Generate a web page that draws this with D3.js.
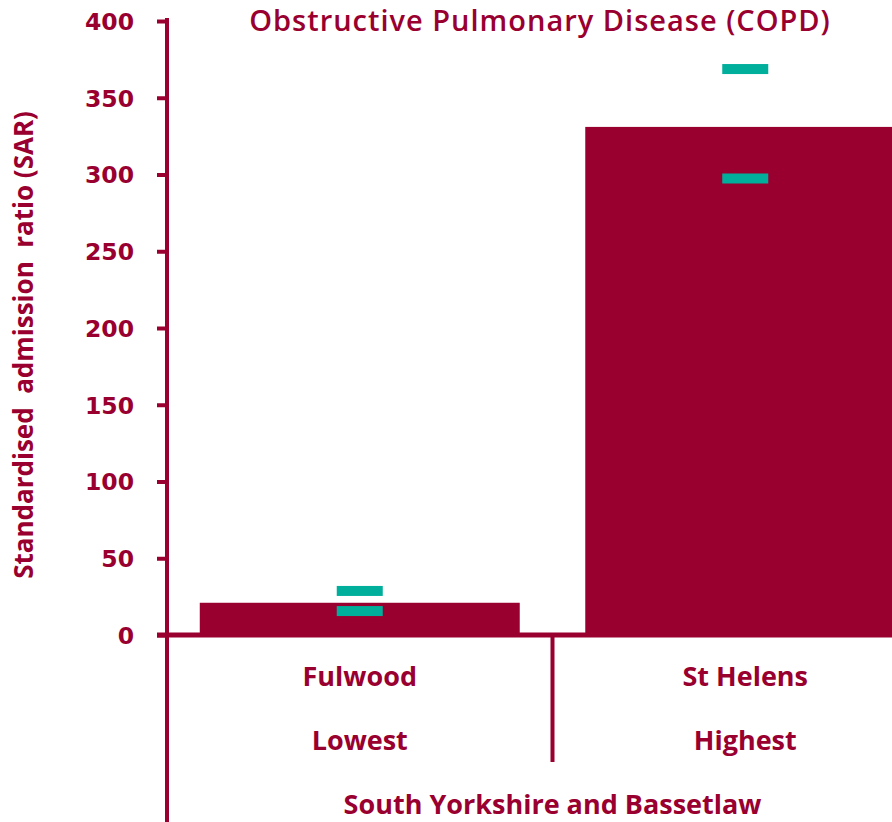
<!DOCTYPE html>
<html><head><meta charset="utf-8">
<script src="https://cdn.jsdelivr.net/npm/d3@7"></script>
<style>body{margin:0;background:#fff;overflow:hidden}</style>
</head><body>
<svg id="c" width="892" height="822"></svg>
<script>
const categories = ["Fulwood", "St Helens"];
const subLabels = ["Lowest", "Highest"];
const groupLabel = "South Yorkshire and Bassetlaw";
const values = [21, 331];
const lowerCI = [15.6, 297.4];
const upperCI = [28.7, 368.7];
const yTicks = [0, 50, 100, 150, 200, 250, 300, 350, 400];
const title = "Obstructive Pulmonary Disease (COPD)";
const yTitle = "Standardised  admission  ratio (SAR)";

const red = "#990030", teal = "#00ae9c";
const svg = d3.select("#c");
const x0 = 167, x1 = 938, yBase = 635, yTop = 21;
const y = d3.scaleLinear().domain([0, 400]).range([yBase, yTop]);
const xb = d3.scaleBand().domain(categories).range([x0, x1]).paddingInner(0.17).paddingOuter(0.085);
const xg = d3.scaleBand().domain(categories).range([x0, x1]);

// bars
svg.selectAll("rect.bar").data(categories).join("rect")
  .attr("x", d => xb(d)).attr("width", xb.bandwidth())
  .attr("y", (d,i) => y(values[i])).attr("height", (d,i) => y(0) - y(values[i]))
  .attr("fill", red);

// CI markers
const mw = 46, mh = 10;
categories.forEach((c,i) => {
  [lowerCI[i], upperCI[i]].forEach(v => {
    svg.append("rect").attr("x", xg(c) + xg.bandwidth()/2 - mw/2).attr("width", mw)
      .attr("y", y(v) - mh/2).attr("height", mh).attr("fill", teal);
  });
});

// y axis
const yAxis = d3.axisLeft(y).tickValues(yTicks).tickSize(10).tickPadding(23);
const gy = svg.append("g").attr("transform", `translate(${x0},0)`).call(yAxis);
gy.select(".domain").remove();
gy.selectAll(".tick line").attr("stroke", red).attr("stroke-width", 4);
gy.selectAll(".tick text").attr("fill", red)
  .style("font-family", "'DejaVu Sans'").style("font-weight", "bold").style("font-size", "23.5px")
  .attr("dy", "0.36em");
svg.append("line").attr("x1", x0).attr("x2", x0).attr("y1", yTop - 3).attr("y2", 822)
  .attr("stroke", red).attr("stroke-width", 4);
// x axis baseline
svg.append("line").attr("x1", x0 - 10).attr("x2", 892).attr("y1", yBase).attr("y2", yBase)
  .attr("stroke", red).attr("stroke-width", 5);
// divider
svg.append("line").attr("x1", xg(categories[1])).attr("x2", xg(categories[1]))
  .attr("y1", yBase).attr("y2", 762).attr("stroke", red).attr("stroke-width", 4);

const lblFont = "'Open Sans'";
function lbl(xp, yp, t) {
  svg.append("text").attr("x", xp).attr("y", yp).attr("text-anchor", "middle")
    .attr("fill", red).style("font-family", lblFont).style("font-weight", "bold").style("font-size", "27px")
    .text(t);
}
categories.forEach((c,i) => {
  const cx = xg(c) + xg.bandwidth()/2;
  lbl(cx, 686, c);
  lbl(cx, 750, subLabels[i]);
});
lbl((x0 + x1)/2, 814, groupLabel);

svg.append("text").attr("x", 540).attr("y", 31).attr("text-anchor", "middle")
  .attr("fill", red).style("font-family", lblFont).style("font-weight", "600").style("font-size", "29px")
  .style("letter-spacing", "1px").text(title);

svg.append("text").attr("transform", "translate(33,345) rotate(-90)").attr("text-anchor", "middle")
  .attr("fill", red).style("font-family", lblFont).style("font-weight", "bold").style("font-size", "26px")
  .style("white-space", "pre")
  .text(yTitle);
</script>
</body></html>
